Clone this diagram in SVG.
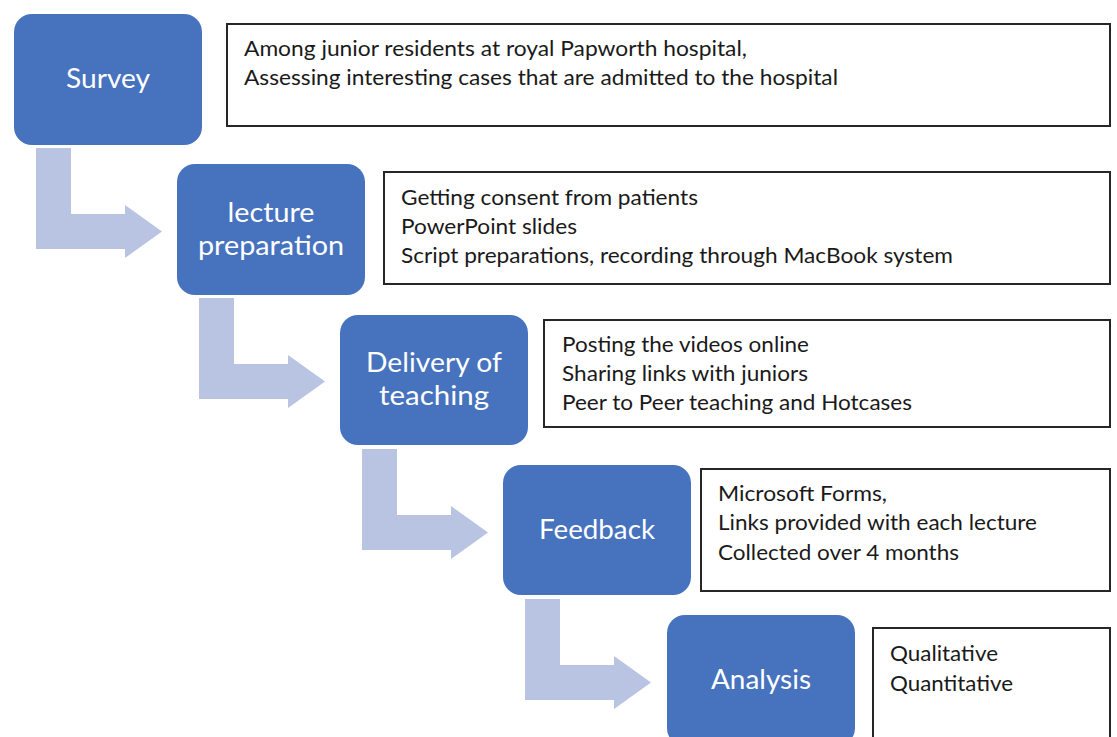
<svg xmlns="http://www.w3.org/2000/svg" width="1117" height="737" viewBox="0 0 1117 737">
<style>
.node{fill:#4672BE;}
.lbl{font-family:Lato,"Open Sans","Liberation Sans",sans-serif;font-size:27px;fill:#ffffff;text-anchor:middle;}
.box{fill:#ffffff;stroke:#262626;stroke-width:2;}
.txt{font-family:Lato,"Open Sans","Liberation Sans",sans-serif;font-size:22px;fill:#1a1a1a;}
.arrow{fill:#B8C4E2;}
</style>
<rect width="1117" height="737" fill="#ffffff"/>
<g id="connectors">
<path class="arrow" d="M36,148 H71 V214 H125 V205 L162,231.5 L125,258 V249 H36 Z"/>
<path class="arrow" d="M199,298 H234 V364 H288 V355 L325,381.5 L288,408 V399 H199 Z"/>
<path class="arrow" d="M362,449 H397 V515 H451 V506 L488,532.5 L451,559 V550 H362 Z"/>
<path class="arrow" d="M525,599 H560 V665 H614 V656 L651,682.5 L614,709 V700 H525 Z"/>
</g>
<g id="survey">
<rect class="node" x="14" y="14" width="188" height="131" rx="18"/>
<text class="lbl" x="108" y="88" textLength="84" lengthAdjust="spacingAndGlyphs">Survey</text>
</g>
<g id="survey-details">
<rect class="box" x="227" y="24" width="883" height="102"/>
<text class="txt" x="244" y="56" textLength="503" lengthAdjust="spacingAndGlyphs">Among junior residents at royal Papworth hospital,</text>
<text class="txt" x="244" y="85" textLength="594" lengthAdjust="spacingAndGlyphs">Assessing interesting cases that are admitted to the hospital</text>
</g>
<g id="lecture">
<rect class="node" x="177" y="164" width="188" height="131" rx="18"/>
<text class="lbl" x="271" y="222" textLength="87" lengthAdjust="spacingAndGlyphs">lecture</text>
<text class="lbl" x="271" y="255" textLength="146" lengthAdjust="spacingAndGlyphs">preparation</text>
</g>
<g id="lecture-details">
<rect class="box" x="384" y="172" width="726" height="112"/>
<text class="txt" x="401" y="205" textLength="297" lengthAdjust="spacingAndGlyphs">Getting consent from patients</text>
<text class="txt" x="401" y="234" textLength="176" lengthAdjust="spacingAndGlyphs">PowerPoint slides</text>
<text class="txt" x="401" y="263" textLength="552" lengthAdjust="spacingAndGlyphs">Script preparations, recording through MacBook system</text>
</g>
<g id="delivery">
<rect class="node" x="340" y="315" width="188" height="130" rx="18"/>
<text class="lbl" x="434" y="372" textLength="136" lengthAdjust="spacingAndGlyphs">Delivery of</text>
<text class="lbl" x="434" y="405" textLength="110" lengthAdjust="spacingAndGlyphs">teaching</text>
</g>
<g id="delivery-details">
<rect class="box" x="544" y="320" width="566" height="107"/>
<text class="txt" x="562" y="352" textLength="247" lengthAdjust="spacingAndGlyphs">Posting the videos online</text>
<text class="txt" x="562" y="381" textLength="246" lengthAdjust="spacingAndGlyphs">Sharing links with juniors</text>
<text class="txt" x="562" y="410" textLength="350" lengthAdjust="spacingAndGlyphs">Peer to Peer teaching and Hotcases</text>
</g>
<g id="feedback">
<rect class="node" x="503" y="465" width="188" height="130" rx="18"/>
<text class="lbl" x="597" y="539" textLength="116" lengthAdjust="spacingAndGlyphs">Feedback</text>
</g>
<g id="feedback-details">
<rect class="box" x="701" y="469" width="409" height="122"/>
<text class="txt" x="718" y="501" textLength="169" lengthAdjust="spacingAndGlyphs">Microsoft Forms,</text>
<text class="txt" x="718" y="530" textLength="319" lengthAdjust="spacingAndGlyphs">Links provided with each lecture</text>
<text class="txt" x="718" y="560" textLength="241" lengthAdjust="spacingAndGlyphs">Collected over 4 months</text>
</g>
<g id="analysis">
<rect class="node" x="667" y="615" width="188" height="131" rx="18"/>
<text class="lbl" x="761" y="689" textLength="100" lengthAdjust="spacingAndGlyphs">Analysis</text>
</g>
<g id="analysis-details">
<rect class="box" x="873" y="628" width="237" height="130"/>
<text class="txt" x="890" y="661" textLength="108" lengthAdjust="spacingAndGlyphs">Qualitative</text>
<text class="txt" x="890" y="691" textLength="123" lengthAdjust="spacingAndGlyphs">Quantitative</text>
</g>
</svg>
